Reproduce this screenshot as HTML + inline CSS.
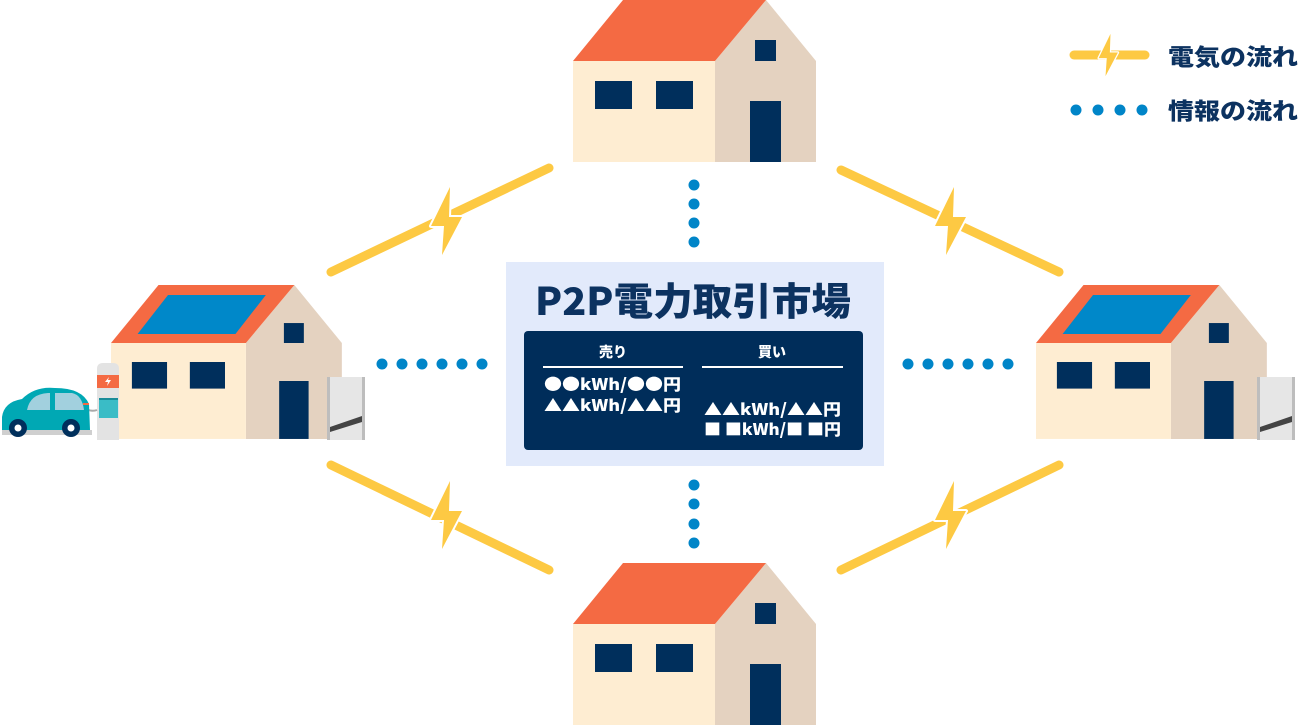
<!DOCTYPE html>
<html><head><meta charset="utf-8"><style>
html,body{margin:0;padding:0;background:#fff;}
svg{display:block;}
text{font-family:"Liberation Sans","Noto Sans CJK JP",sans-serif;font-weight:bold;}
.cjk{font-family:"Noto Sans CJK JP","Liberation Sans",sans-serif;font-weight:900;}
</style></head><body>
<svg width="1300" height="726" viewBox="0 0 1300 726" xmlns="http://www.w3.org/2000/svg">
<defs>
<g id="house">
  <polygon points="142,0 193,-61 243,0 243,101 142,101" fill="#e4d2c0"/>
  <rect x="0" y="0" width="142" height="101" fill="#feedd2"/>
  <polygon points="0,0 50,-61 193,-61 142,0" fill="#f46a43"/>
  <rect x="22" y="20" width="37" height="28" fill="#002f5c"/>
  <rect x="83" y="20" width="37" height="28" fill="#002f5c"/>
  <rect x="182" y="-21" width="21" height="21" fill="#002f5c"/>
  <rect x="177" y="40" width="31" height="61" fill="#002f5c"/>
</g>
<g id="solar">
  <polygon points="28,-9.5 60,-50.5 163,-50.5 131,-9.5" fill="#0088c9"/>
</g>
<g id="batt">
  <rect x="0" y="0" width="38" height="63" fill="#e6e6e6"/>
  <rect x="0" y="0" width="3" height="63" fill="#bdbdbd"/>
  <rect x="35" y="0" width="3" height="63" fill="#bdbdbd"/>
  <polygon points="3,50 35,39 35,45 3,55" fill="#444"/>
</g>
<path id="bolt" d="M4,-34 L-15,5 L-2,5 L-4,34 L16,-4 L3,-4 Z" fill="#fdc943" stroke="#fff" stroke-width="4" stroke-linejoin="round" paint-order="stroke"/>
</defs>

<g stroke="#fdc943" stroke-width="9" stroke-linecap="round">
<line x1="331" y1="272" x2="549" y2="168"/>
<line x1="841" y1="170" x2="1059" y2="272"/>
<line x1="331" y1="465" x2="549" y2="570"/>
<line x1="841" y1="570" x2="1059" y2="465"/>
<line x1="1074" y1="55" x2="1145" y2="55"/>
</g>
<use href="#bolt" transform="translate(446,221)"/>
<use href="#bolt" transform="translate(950,221)"/>
<use href="#bolt" transform="translate(446,515)"/>
<use href="#bolt" transform="translate(950,515)"/>
<use href="#bolt" transform="translate(1108,55) scale(0.62)"/>

<g fill="#0085c8">
<circle cx="694" cy="185" r="5.5"/><circle cx="694" cy="204" r="5.5"/><circle cx="694" cy="223" r="5.5"/><circle cx="694" cy="242" r="5.5"/>
<circle cx="694" cy="485" r="5.5"/><circle cx="694" cy="504" r="5.5"/><circle cx="694" cy="524" r="5.5"/><circle cx="694" cy="543" r="5.5"/>
<circle cx="382" cy="364" r="5.5"/><circle cx="402" cy="364" r="5.5"/><circle cx="422" cy="364" r="5.5"/><circle cx="442" cy="364" r="5.5"/><circle cx="462" cy="364" r="5.5"/><circle cx="482" cy="364" r="5.5"/>
<circle cx="908" cy="364" r="5.5"/><circle cx="928" cy="364" r="5.5"/><circle cx="948" cy="364" r="5.5"/><circle cx="968" cy="364" r="5.5"/><circle cx="988" cy="364" r="5.5"/><circle cx="1008" cy="364" r="5.5"/>
<circle cx="1076" cy="110" r="5.5"/><circle cx="1098" cy="110" r="5.5"/><circle cx="1120" cy="110" r="5.5"/><circle cx="1142" cy="110" r="5.5"/>
</g>

<text class="cjk" x="1168" y="65" font-size="23" fill="#0c3260" textLength="130" lengthAdjust="spacingAndGlyphs">電気の流れ</text>
<text class="cjk" x="1168" y="119" font-size="23" fill="#0c3260" textLength="130" lengthAdjust="spacingAndGlyphs">情報の流れ</text>

<use href="#house" transform="translate(573,61)"/>
<use href="#house" transform="translate(573,624)"/>
<g transform="translate(111,343) scale(0.95)"><use href="#house"/><use href="#solar"/></g>
<g transform="translate(1036,343) scale(0.95)"><use href="#house"/><use href="#solar"/></g>
<use href="#batt" transform="translate(327,377)"/>
<use href="#batt" transform="translate(1257,377)"/>

<path d="M97,440 L97,369 Q97,363 103,363 L113,363 Q119,363 119,369 L119,440 Z" fill="#e3e3e3"/>
<rect x="97" y="375" width="22" height="13" fill="#f46a43"/>
<path d="M109,377 L105,382 L108,382 L107,386 L111,380 L108,380 Z" fill="#fff"/>
<rect x="99" y="398" width="19" height="20" fill="#3abcc6"/>
<rect x="99" y="398" width="19" height="2" fill="#1a8c99"/>
<path d="M86,409 Q92,412 97,410" stroke="#aaa" stroke-width="2" fill="none"/>
<rect x="2" y="430" width="90" height="5" fill="#cfcfcf"/>
<path d="M2,430 L2,417 Q4,402 22,399 Q35,386 55,388 Q82,388 89,404 L90,430 Z" fill="#00a8b4"/>
<path d="M27,410 Q30,394 48,393 L50,393 L50,410 Z" fill="#a2d0de"/>
<path d="M55,393 L72,393 Q82,395 84,410 L55,410 Z" fill="#a2d0de"/>
<rect x="83" y="403" width="6" height="2" fill="#f46a43"/>
<circle cx="18" cy="428" r="9" fill="#002f5c"/><circle cx="18" cy="428" r="3.5" fill="#fff"/>
<circle cx="71" cy="428" r="9" fill="#002f5c"/><circle cx="71" cy="428" r="3.5" fill="#fff"/>

<rect x="506" y="262" width="378" height="204" fill="#e2eafb"/>
<text class="cjk" x="535" y="315" font-size="38" fill="#0c3260" textLength="316" lengthAdjust="spacingAndGlyphs">P2P電力取引市場</text>
<rect x="524" y="331" width="339" height="119" rx="4" fill="#002d5a"/>
<g fill="#fff">
<text class="cjk" x="613" y="357" font-size="14" text-anchor="middle">売り</text>
<text class="cjk" x="772" y="357" font-size="14" text-anchor="middle">買い</text>
<rect x="543" y="366" width="140" height="2"/>
<rect x="702" y="366" width="141" height="2"/>
<text class="cjk" x="544" y="390" font-size="16" textLength="137" lengthAdjust="spacingAndGlyphs">●●kWh/●●円</text>
<text class="cjk" x="544" y="411" font-size="16" textLength="137" lengthAdjust="spacingAndGlyphs">▲▲kWh/▲▲円</text>
<text class="cjk" x="704" y="415" font-size="16" textLength="137" lengthAdjust="spacingAndGlyphs">▲▲kWh/▲▲円</text>
<text class="cjk" x="704" y="435" font-size="16" textLength="137" lengthAdjust="spacingAndGlyphs">■ ■kWh/■ ■円</text>
</g>
</svg>
</body></html>
